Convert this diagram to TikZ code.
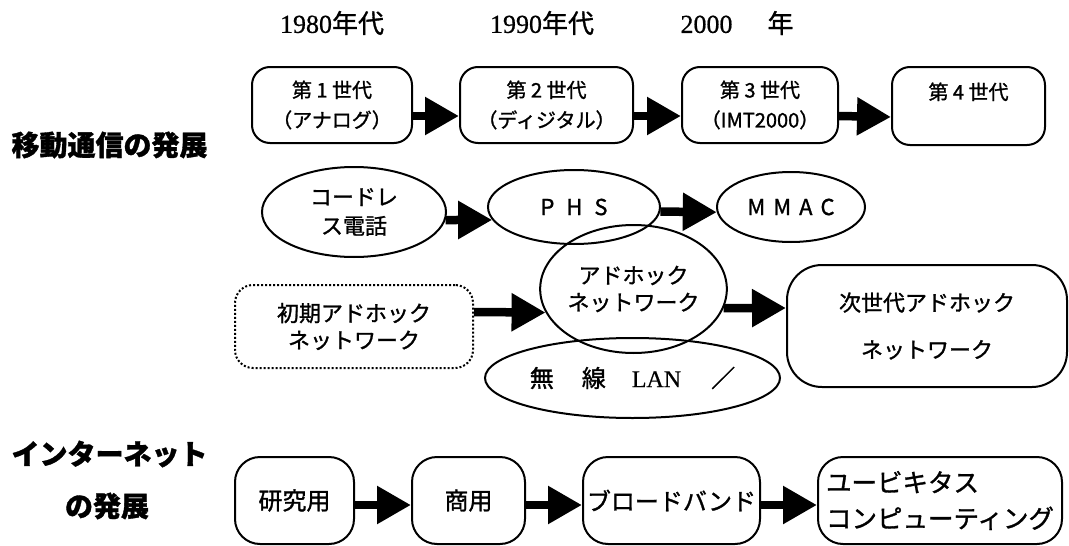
\documentclass[tikz,border=0pt]{standalone}
\usepackage{fontspec}
\setmainfont{Noto Sans CJK JP}[RawFeature={embolden=1.2}]
\newfontfamily\serifnum{Liberation Serif}[RawFeature={embolden=0.6}]
\usetikzlibrary{arrows.meta,shapes.geometric}
\tikzset{
  rbox/.style={draw, line width=2pt, rounded corners=18pt, inner sep=0pt, align=center},
  ell/.style={draw, ellipse, line width=2pt, inner sep=0pt, align=center},
  bigarrow/.style={line width=8.5pt, -{Triangle[length=34pt,width=36pt]}},
  yearlabel/.style={font=\fontsize{26}{30}\selectfont},
  title/.style={font=\fontsize{28}{32}\selectfont\bfseries},
  gentext/.style={font=\fontsize{20}{24}\selectfont},
  midtext/.style={font=\fontsize{22}{27}\selectfont},
  nettext/.style={font=\fontsize{24}{30}\selectfont},
}
\begin{document}
\begin{tikzpicture}[x=1pt,y=-1pt]
\useasboundingbox (0,0) rectangle (1069,546);
% year labels
\node[yearlabel] (t80) at (332,23) {{\serifnum 1980}年代};
\node[yearlabel] (t90) at (542,23) {{\serifnum 1990}年代};
\node[yearlabel] (t00) at (737,23) {{\serifnum 2000}\hspace{35pt}年};
% titles
\node[title, anchor=west] (mob) at (8,145) {移動通信の発展};
\node[title, anchor=west] (inet1) at (8,454) {インターネット};
\node[title] (inet2) at (107,506) {の発展};
% row 1
\node[rbox, gentext, minimum width=160pt, minimum height=76pt] (g1) at (332,105) {第 1 世代\\[6pt]（アナログ）};
\node[rbox, gentext, minimum width=173pt, minimum height=76pt] (g2) at (546.5,105) {第 2 世代\\[6pt]（ディジタル）};
\node[rbox, gentext, minimum width=156pt, minimum height=76pt] (g3) at (760,105) {第 3 世代\\[6pt]（IMT2000）};
\node[rbox, gentext, minimum width=153pt, minimum height=78pt] (g4) at (968.5,106) {第 4 世代\\[6pt]\mbox{}};
\draw[bigarrow] ([yshift=-11pt]g1.east) -- ([yshift=-11pt]g2.west);
\draw[bigarrow] ([yshift=-11pt]g2.east) -- ([yshift=-11pt]g3.west);
\draw[bigarrow] ([yshift=-11pt]g3.east) -- ([yshift=-11pt]g4.west);
% row 2
\node[ell, midtext, minimum width=184pt, minimum height=90pt] (e1) at (354,212) {コードレ\\[2pt]ス電話};
\node[ell, midtext, minimum width=172pt, minimum height=74pt] (e2) at (574,207) {P\hspace{12pt}H\hspace{12pt}S};
\node[ell, midtext, minimum width=148pt, minimum height=70pt] (e3) at (791,207) {M\hspace{8pt}M\hspace{8pt}A\hspace{8pt}C};
\draw[bigarrow] (e1.-5) -- (e2.189);
\draw[bigarrow] (e2.-3) -- (e3.184);
% row 3
\node[rbox, midtext, dash pattern=on 2pt off 2pt, minimum width=238pt, minimum height=83pt] (d) at (354,326.5) {初期アドホック\\ネットワーク};
\node[ell, midtext, minimum width=183pt, minimum height=128pt] (a) at (633.5,289) {アドホック\\ネットワーク};
\node[ell, font=\fontsize{24}{28}\selectfont, minimum width=295pt, minimum height=80pt] (lan) at (632.5,378) {無\hspace{28pt}線\hspace{26pt}{\serifnum LAN}\hspace{30pt}／};
\node[rbox, midtext, rounded corners=35pt, minimum width=280pt, minimum height=122pt] (n) at (927,326) {次世代アドホック\\[20pt]ネットワーク};
\draw[bigarrow] ([yshift=14.5pt]d.east) -- (a.195);
\draw[bigarrow] (a.-12) -- ([yshift=18pt]n.west);
% internet row
\node[rbox, nettext, rounded corners=25pt, minimum width=119pt, minimum height=87pt] (i1) at (294.5,500.5) {研究用};
\node[rbox, nettext, rounded corners=25pt, minimum width=113pt, minimum height=87pt] (i2) at (468.5,500.5) {商用};
\node[rbox, nettext, rounded corners=25pt, minimum width=177pt, minimum height=87pt] (i3) at (671.5,500.5) {ブロードバンド};
\node[rbox, font=\fontsize{25.5}{31}\selectfont, align=left, rounded corners=25pt, minimum width=244pt, minimum height=87pt] (i4) at (940,500.5) {ユービキタス\\[5pt]コンピューティング};
\draw[bigarrow] ([yshift=-4.5pt]i1.east) -- ([yshift=-4.5pt]i2.west);
\draw[bigarrow] ([yshift=-4.5pt]i2.east) -- ([yshift=-4.5pt]i3.west);
\draw[bigarrow] ([yshift=-4.5pt]i3.east) -- ([yshift=-4.5pt]i4.west);
\end{tikzpicture}
\end{document}
